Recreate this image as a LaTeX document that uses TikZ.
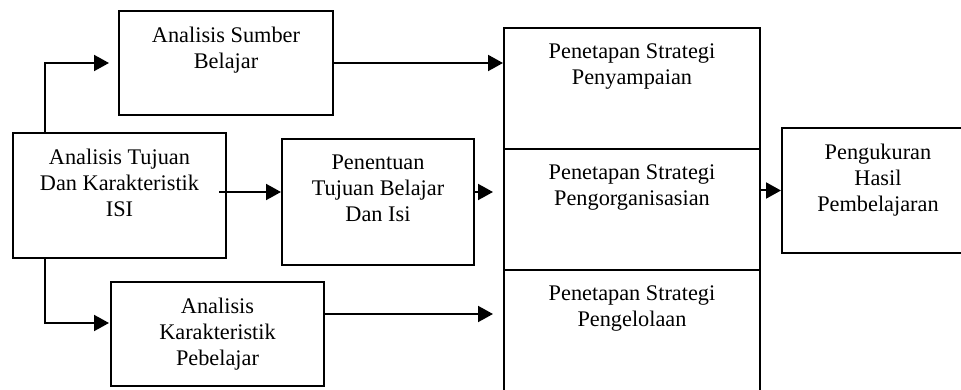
\documentclass[tikz,border=0pt]{standalone}
\usepackage{fontspec}
\setmainfont{Liberation Serif}
\usetikzlibrary{arrows.meta,positioning}

\begin{document}
\begin{tikzpicture}[x=1pt, y=-1pt]
    \tikzset{kotak/.style 2 args={draw, line width=2pt, minimum width=#1, minimum height=#2, anchor=north west, inner sep=0pt},
             teks/.style={anchor=north, align=center, inner sep=0pt, yshift=-17pt, font=\fontsize{22.3}{25.8}\selectfont},
             isi/.style={label={[teks]north:#1}},
             panah/.style={-{Triangle[length=15pt,width=16pt]}, line width=2pt}}
  % parameters
  \def\H{121}      % tinggi satu kotak strategi (pt)

  \useasboundingbox (0,0) rectangle (961,390);

  % kotak analisis di kiri
  \node[kotak={214pt}{104pt}, isi={Analisis Sumber\\Belajar}] (sumber) at (118,10) {};
  \node[kotak={213pt}{125pt}, isi={Analisis Tujuan\\Dan Karakteristik\\ISI}] (tujuan) at (12,132) {};
  \node[kotak={192pt}{126pt}, isi={Penentuan\\Tujuan Belajar\\Dan Isi}] (penentuan) at (281,138) {};
  \node[kotak={213pt}{104pt}, isi={Analisis\\Karakteristik\\Pebelajar}] (pebelajar) at (110,281) {};

  % tiga kotak strategi bertumpuk
  \foreach \nama/\judul [count=\i from 0] in {penyampaian/Penyampaian, pengorganisasian/Pengorganisasian, pengelolaan/Pengelolaan} {
    \node[kotak={256pt}{\H pt}, isi={Penetapan Strategi\\\judul}] (\nama) at (503,{27+\i*\H}) {};
  }

  \node[kotak={192pt}{125pt}, isi={Pengukuran\\Hasil\\Pembelajaran}] (pengukuran) at (781,127) {};

  % panah
  \draw[panah] ([xshift=33pt]tujuan.north west) |- ([xshift=-9pt]sumber.west);
  \draw[panah] ([xshift=33pt]tujuan.south west) |- ([xshift=-1pt,yshift=11pt]pebelajar.west);
  \draw[panah] (sumber.east) -- (sumber.east -| penyampaian.west);
  \draw[panah] ([xshift=-8pt,yshift=3.5pt]tujuan.east) coordinate (a) -- (a -| penentuan.west);
  \draw[panah] ([yshift=10pt]penentuan.east) coordinate (b) -- ([xshift=-10pt]b -| pengorganisasian.west);
  \draw[panah] ([yshift=20pt]pebelajar.east) coordinate (c) -- ([xshift=-10pt]c -| pengelolaan.west);
  \draw[panah] (pengorganisasian.east |- pengukuran.west) -- (pengukuran.west);
\end{tikzpicture}
\end{document}
